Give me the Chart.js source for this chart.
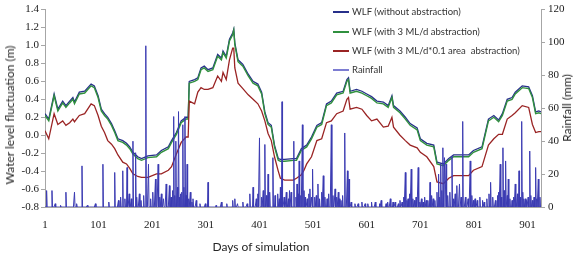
<!DOCTYPE html>
<html><head><meta charset="utf-8">
<script src="https://cdn.jsdelivr.net/npm/chart.js@4.4.0/dist/chart.umd.min.js"></script>
<style>
html,body{margin:0;padding:0;background:#fff;}
#wrap{position:relative;width:579px;height:258px;overflow:hidden;}
.t{position:absolute;font-family:Lato,"Open Sans",sans-serif;color:#262626;white-space:pre;line-height:1;}
.lg{position:absolute;display:flex;align-items:center;font-family:Lato,"Open Sans",sans-serif;font-size:9.5px;color:#333;white-space:pre;line-height:1;}
.lg span.ln{display:inline-block;width:16px;height:2px;margin-right:3px;}
</style></head><body>
<div id="wrap">
<canvas id="c" width="579" height="258"></canvas>
<div class="t" style="left:10px;top:115px;transform:translate(-50%,-50%) rotate(-90deg);font-size:12px;">Water level fluctuation (m)</div>
<div class="t" style="left:567px;top:108px;transform:translate(-50%,-50%) rotate(-90deg);font-size:12px;">Rainfall (mm)</div>
<div class="t" style="left:261px;top:247px;transform:translate(-50%,-50%);font-size:12px;">Days of simulation</div>
<div id="legend"></div>
</div>
<script>
// ---- data ----
const seriesNames = ["WLF (without abstraction)", "WLF (with 3 ML/d abstraction)", "WLF (with 3 ML/d*0.1 area  abstraction)", "Rainfall"];
const xTickVals = [1,101,201,301,401,501,601,701,801,901];
const yTickVals = [-0.8,-0.6,-0.4,-0.2,0,0.2,0.4,0.6,0.8,1.0,1.2,1.4];
const y1TickVals = [0,20,40,60,80,100,120];

const wlfDays = [1,8,18,25,34,40,47,53,56,65,
 75,87,93,100,106,112,118,125,131,137,
 146,153,159,165,174,181,193,209,218,231,
 237,246,255,264,268,270,280,286,292,298,
 305,314,323,330,333,339,345,351,353,355,
 361,370,380,389,398,405,411,417,423,429,
 436,440,448,464,470,479,484,489,498,508,
 517,526,535,545,557,564,567,570,582,592,
 601,610,620,632,641,648,651,663,673,682,
 695,701,713,726,732,744,754,763,791,800,
 816,828,838,847,854,863,872,878,891,903,
 910,916,922,926];

const wlfNoAbs = [0.24,0.18,0.46,0.29,0.38,0.33,0.38,0.42,0.37,0.48,
 0.49,0.57,0.55,0.44,0.29,0.24,0.20,0.13,0.05,-0.04,
 -0.06,-0.09,-0.13,-0.19,-0.24,-0.26,-0.23,-0.22,-0.17,-0.13,
 -0.06,0.03,0.16,0.20,0.20,0.60,0.62,0.64,0.75,0.77,
 0.73,0.75,0.90,0.86,0.94,0.88,1.07,1.14,1.18,1.03,
 0.84,0.79,0.68,0.60,0.57,0.48,0.26,0.14,0.11,-0.11,
 -0.26,-0.27,-0.27,-0.26,-0.26,-0.15,-0.13,-0.11,-0.02,0.11,
 0.14,0.35,0.38,0.47,0.49,0.62,0.64,0.49,0.51,0.49,
 0.46,0.43,0.38,0.37,0.33,0.44,0.33,0.27,0.20,0.13,
 0.08,-0.04,-0.09,-0.11,-0.30,-0.32,-0.26,-0.22,-0.22,-0.17,
 -0.13,0.18,0.22,0.17,0.24,0.40,0.42,0.48,0.55,0.54,
 0.44,0.26,0.27,0.26];

const wlf3ML = [0.22,0.16,0.44,0.27,0.36,0.31,0.36,0.40,0.35,0.46,
 0.47,0.55,0.53,0.42,0.27,0.22,0.18,0.11,0.03,-0.06,
 -0.08,-0.11,-0.15,-0.21,-0.26,-0.28,-0.25,-0.24,-0.19,-0.15,
 -0.08,0.01,0.14,0.18,0.18,0.58,0.60,0.62,0.73,0.75,
 0.71,0.73,0.88,0.84,0.92,0.86,1.05,1.12,1.17,1.01,
 0.82,0.77,0.66,0.58,0.55,0.46,0.24,0.12,0.09,-0.13,
 -0.28,-0.29,-0.29,-0.28,-0.28,-0.17,-0.15,-0.13,-0.04,0.09,
 0.12,0.33,0.36,0.45,0.47,0.60,0.62,0.47,0.49,0.47,
 0.44,0.41,0.36,0.35,0.31,0.42,0.31,0.25,0.18,0.11,
 0.06,-0.06,-0.11,-0.13,-0.32,-0.34,-0.28,-0.24,-0.24,-0.19,
 -0.15,0.16,0.20,0.15,0.22,0.38,0.40,0.46,0.53,0.52,
 0.42,0.24,0.25,0.24];

const wlf3MLArea = [0.05,-0.04,0.24,0.12,0.16,0.11,0.14,0.18,0.15,0.22,
 0.24,0.35,0.33,0.22,0.10,0.03,-0.06,-0.10,-0.15,-0.22,
 -0.30,-0.32,-0.37,-0.43,-0.46,-0.47,-0.47,-0.43,-0.43,-0.39,
 -0.35,-0.21,-0.08,-0.02,-0.02,0.38,0.35,0.48,0.53,0.51,
 0.51,0.53,0.66,0.60,0.70,0.62,0.84,0.97,0.97,0.75,
 0.58,0.52,0.45,0.40,0.35,0.27,0.16,0.02,-0.06,-0.24,
 -0.40,-0.48,-0.50,-0.50,-0.48,-0.44,-0.39,-0.32,-0.24,-0.06,
 -0.04,0.14,0.16,0.24,0.27,0.40,0.42,0.29,0.31,0.29,
 0.22,0.16,0.18,0.09,0.10,0.20,0.09,0.00,-0.06,-0.11,
 -0.14,-0.19,-0.24,-0.35,-0.52,-0.54,-0.48,-0.45,-0.45,-0.39,
 -0.35,-0.11,-0.04,0.01,0.01,0.18,0.22,0.25,0.33,0.31,
 0.12,0.03,0.04,0.04];

// rain days (day of simulation) and amount (mm); all other days read as zero
const rainDay = [4,14,20,30,40,56,60,70,80,95,109,120,131,138,142,146,150,154,158,162,165,170,172,177,180,185,189,194,198,202,207,212,215,218,222,227,233,236,239,241,243,245,248,250,252,254,256,258,260,262,264,266,269,272,275,277,283,290,300,305,320,330,340,351,355,360,370,378,383,389,395,398,401,405,408,411,414,417,420,426,430,435,438,440,443,447,451,455,457,460,465,469,471,473,475,478,481,484,486,490,493,495,498,500,504,507,510,513,517,520,523,527,530,535,538,542,545,548,550,553,556,560,565,568,572,579,585,592,598,603,610,617,625,628,637,640,645,650,654,660,663,667,670,673,676,678,681,684,687,690,693,697,700,703,706,709,712,715,719,722,725,728,732,735,737,739,741,743,746,749,752,756,760,763,766,769,774,777,780,785,790,794,797,800,803,807,812,817,820,825,829,832,836,841,845,847,850,852,855,857,860,863,865,868,872,875,878,882,885,887,890,892,894,897,899,902,905,907,910,913,916,918,921,924];
const rainMm = [10,10,2,1,9,9,2,25,1,2,26,3,21,4,6,22,5,24,8,5,40,33,6,8,4,7,98,26,5,9,17,26,6,8,5,14,13,6,10,55,7,40,12,58,6,8,9,50,12,55,7,26,5,9,3,5,4,2,2,15,1,3,2,4,5,2,3,2,8,12,5,8,42,6,10,38,7,20,9,30,7,8,5,12,64,6,9,5,10,9,40,6,14,8,28,7,50,10,6,5,8,11,6,23,6,7,14,5,9,19,6,5,8,50,7,11,6,9,5,4,7,45,22,17,3,2,2,3,2,2,3,3,2,4,2,3,5,3,3,2,4,3,6,21,4,5,8,23,5,4,6,24,3,5,3,6,4,4,15,7,5,4,9,20,6,26,10,36,30,26,7,9,31,5,8,13,14,6,52,6,5,28,7,4,5,4,6,4,3,5,8,15,6,4,7,9,26,6,36,10,28,7,17,5,4,6,14,8,22,6,52,9,5,5,4,6,34,7,4,6,24,5,17,6];

// ---- build point tables ----
const totalDays = 926;
const rainDaily = [];
for (let d = 1; d <= totalDays; d++) rainDaily.push({x: d, y: 0});
rainDay.forEach((d, i) => { const p = rainDaily[d - 1]; p.y = Math.max(p.y, rainMm[i]); });
const pts = arr => wlfDays.map((d, i) => ({x: d, y: arr[i]}));

const colors = ['#27308a', '#30903e', '#9a2424', '#3b3bb2'];

// legend (HTML, real text)
const legendRowsY = [12, 31.5, 51, 70];
const lg = document.getElementById('legend');
seriesNames.forEach((n, i) => {
  const d = document.createElement('div');
  d.className = 'lg';
  d.style.left = '333px';
  d.style.top = (legendRowsY[i] - 5) + 'px';
  d.style.height = '10px';
  const s = document.createElement('span');
  s.className = 'ln';
  s.style.background = i === 3 ? '#7d7dd2' : colors[i];
  d.appendChild(s);
  d.appendChild(document.createTextNode(n));
  lg.appendChild(d);
});

const axisGrey = '#a6a6a6';
const tickFont = {family: '"Liberation Serif", "DejaVu Serif", serif', size: 11};

new Chart(document.getElementById('c'), {
  type: 'line',
  data: {
    datasets: [
      {label: seriesNames[3], data: rainDaily, yAxisID: 'y1', borderColor: colors[3], borderWidth: 1, pointRadius: 0, tension: 0, order: 0},
      {label: seriesNames[2], data: pts(wlf3MLArea), yAxisID: 'y', borderColor: colors[2], borderWidth: 1.3, pointRadius: 0, tension: 0, order: 1},
      {label: seriesNames[1], data: pts(wlf3ML), yAxisID: 'y', borderColor: colors[1], borderWidth: 1.4, pointRadius: 0, tension: 0, order: 2},
      {label: seriesNames[0], data: pts(wlfNoAbs), yAxisID: 'y', borderColor: colors[0], borderWidth: 1.3, pointRadius: 0, tension: 0, order: 3}
    ]
  },
  options: {
    responsive: false,
    animation: false,
    devicePixelRatio: 1,
    layout: {padding: {top: 8, left: 0, right: 0, bottom: 0}},
    plugins: {legend: {display: false}, tooltip: {enabled: false}},
    scales: {
      x: {
        type: 'linear', min: 1, max: totalDays,
        afterBuildTicks: s => { s.ticks = xTickVals.map(v => ({value: v})); },
        afterFit: s => { s.height = 51; },
        grid: {display: false},
        border: {display: true, color: axisGrey},
        ticks: {font: tickFont, color: '#1a1a1a', padding: 4, maxRotation: 0, autoSkip: false, callback: v => String(v)}
      },
      y: {
        position: 'left', min: -0.8, max: 1.4,
        afterBuildTicks: s => { s.ticks = yTickVals.map(v => ({value: v})); },
        afterFit: s => { s.width = 45; },
        grid: {drawOnChartArea: false, drawTicks: true, tickLength: 4, color: axisGrey},
        border: {display: true, color: axisGrey},
        ticks: {font: tickFont, color: '#1a1a1a', padding: 2, autoSkip: false, callback: v => (Math.abs(v) < 1e-9 ? 0 : v).toFixed(1)}
      },
      y1: {
        position: 'right', min: 0, max: 120,
        afterBuildTicks: s => { s.ticks = y1TickVals.map(v => ({value: v})); },
        afterFit: s => { s.width = 38; },
        grid: {drawOnChartArea: false, drawTicks: true, tickLength: 4, color: axisGrey},
        border: {display: true, color: axisGrey},
        ticks: {font: tickFont, color: '#1a1a1a', padding: 3, autoSkip: false}
      }
    }
  }
});
</script>
</body></html>
